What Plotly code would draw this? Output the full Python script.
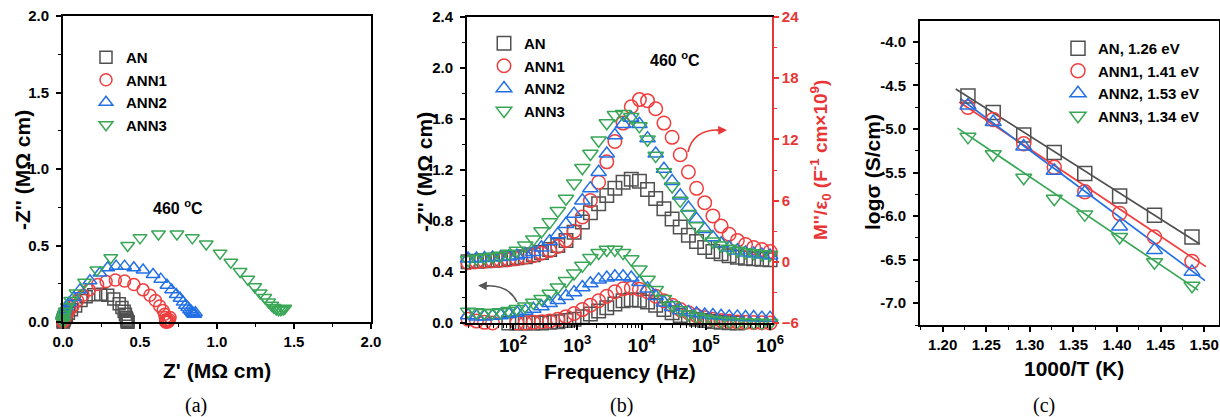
import plotly.graph_objects as go

# ---------------- data ----------------
samples = ["AN", "ANN1", "ANN2", "ANN3"]

freq = [20, 27, 36, 48, 64, 86, 115, 155, 207, 277, 372, 498, 667, 893, 1200, 1600,
        2150, 2880, 3850, 5160, 6920, 9270, 12400, 16600, 22300, 29900, 40000, 53600,
        71800, 96200, 129000, 173000, 231000, 310000, 415000, 556000, 745000, 1000000]

# -Z'' (MOhm cm) vs frequency
zim_AN = [-0.04, -0.02, -0.02, -0.01, -0.01, 0.0, 0.0, 0.0, 0.0, 0.0,
          0.005, 0.01, 0.02, 0.03, 0.05, 0.07, 0.095, 0.12, 0.15, 0.175,
          0.182, 0.178, 0.165, 0.14, 0.105, 0.08, 0.058, 0.042, 0.03, 0.02,
          0.012, 0.006, 0.002, 0.0, -0.003, -0.005, -0.007, -0.008]
zim_ANN1 = [0.03, 0.015, 0.005, 0.0, -0.005, -0.005, 0.0, 0.0, 0.005, 0.01,
            0.015, 0.03, 0.05, 0.075, 0.105, 0.14, 0.175, 0.21, 0.245, 0.268,
            0.275, 0.265, 0.245, 0.21, 0.175, 0.14, 0.105, 0.08, 0.058, 0.042,
            0.03, 0.02, 0.013, 0.008, 0.005, 0.003, 0.002, 0.0]
zim_ANN2 = [0.06, 0.05, 0.05, 0.055, 0.06, 0.07, 0.08, 0.095, 0.11, 0.13,
            0.155, 0.18, 0.21, 0.24, 0.28, 0.31, 0.34, 0.355, 0.365, 0.365,
            0.355, 0.32, 0.27, 0.21, 0.16, 0.125, 0.1, 0.085, 0.075, 0.065,
            0.06, 0.055, 0.05, 0.05, 0.045, 0.045, 0.04, 0.04]
zim_ANN3 = [0.09, 0.085, 0.08, 0.08, 0.085, 0.095, 0.11, 0.13, 0.16, 0.19,
            0.23, 0.28, 0.33, 0.39, 0.45, 0.51, 0.55, 0.575, 0.575, 0.55,
            0.5, 0.42, 0.34, 0.26, 0.19, 0.14, 0.1, 0.07, 0.05, 0.035,
            0.025, 0.018, 0.012, 0.008, 0.005, 0.003, 0.001, 0.0]

# Z' (MOhm cm) at the same frequencies
zre_AN = [0.405, 0.41, 0.415, 0.415, 0.418, 0.418, 0.42, 0.42, 0.42, 0.42,
          0.418, 0.416, 0.414, 0.41, 0.405, 0.397, 0.383, 0.365, 0.33, 0.29,
          0.245, 0.2, 0.15, 0.117, 0.082, 0.055, 0.035, 0.022, 0.014, 0.009,
          0.005, 0.003, 0.002, 0.001, 0.001, 0.0, 0.0, 0.0]
zre_ANN1 = [0.695, 0.69, 0.685, 0.68, 0.675, 0.672, 0.67, 0.668, 0.668, 0.668,
            0.668, 0.665, 0.66, 0.65, 0.628, 0.6, 0.565, 0.52, 0.46, 0.4,
            0.34, 0.28, 0.225, 0.17, 0.13, 0.095, 0.065, 0.045, 0.03, 0.02,
            0.013, 0.008, 0.005, 0.003, 0.002, 0.001, 0.0, 0.0]
zre_ANN2 = [0.86, 0.855, 0.85, 0.845, 0.84, 0.832, 0.822, 0.81, 0.795, 0.78,
            0.76, 0.735, 0.705, 0.675, 0.635, 0.585, 0.52, 0.46, 0.4, 0.345,
            0.29, 0.24, 0.175, 0.11, 0.07, 0.04, 0.02, 0.012, 0.008, 0.005,
            0.003, 0.002, 0.001, 0.0, 0.0, 0.0, 0.0, 0.0]
zre_ANN3 = [1.44, 1.43, 1.415, 1.4, 1.385, 1.37, 1.355, 1.335, 1.31, 1.28,
            1.245, 1.2, 1.15, 1.09, 1.02, 0.93, 0.84, 0.74, 0.62, 0.5,
            0.42, 0.31, 0.22, 0.14, 0.085, 0.05, 0.028, 0.015, 0.008, 0.004,
            0.002, 0.001, 0.0, 0.0, 0.0, 0.0, 0.0, 0.0]

# M''/eps0 (F^-1 cm x10^9)
mim_AN = [0.0, 0.05, 0.1, 0.15, 0.2, 0.3, 0.4, 0.5, 0.7, 0.9,
          1.2, 1.6, 2.1, 2.9, 3.9, 4.8, 5.7, 6.5, 7.2, 7.8,
          8.1, 7.9, 7.1, 6.2, 5.2, 4.2, 3.4, 2.6, 2.0, 1.4,
          1.0, 0.8, 0.6, 0.45, 0.35, 0.3, 0.25, 0.2]
mim_ANN1 = [-0.1, 0.0, 0.05, 0.1, 0.15, 0.2, 0.3, 0.45, 0.6, 0.85,
            1.1, 1.5, 2.1, 3.0, 4.4, 6.0, 7.8, 9.8, 11.8, 13.6,
            15.2, 15.9, 15.8, 15.0, 13.6, 12.2, 10.5, 8.8, 7.2, 5.8,
            4.5, 3.5, 2.7, 2.1, 1.7, 1.4, 1.2, 1.0]
mim_ANN2 = [0.3, 0.3, 0.35, 0.4, 0.45, 0.5, 0.6, 0.75, 0.95, 1.4,
            2.0, 2.7, 3.7, 4.7, 6.0, 7.2, 8.8, 10.6, 12.4, 13.5,
            14.1, 13.5, 12.1, 10.6, 9.1, 7.9, 6.5, 5.3, 4.2, 3.2,
            2.4, 1.8, 1.4, 1.1, 0.9, 0.8, 0.7, 0.6]
mim_ANN3 = [0.2, 0.3, 0.4, 0.5, 0.6, 0.8, 1.1, 1.6, 2.2, 3.0,
            3.9, 5.0, 6.2, 7.7, 9.2, 10.6, 11.9, 13.6, 14.4, 14.5,
            14.2, 13.3, 12.0, 10.4, 8.8, 7.4, 6.0, 4.7, 3.5, 2.7,
            2.0, 1.6, 1.3, 1.1, 0.95, 0.85, 0.75, 0.7]

# Arrhenius data
inv_T = [1.229, 1.258, 1.293, 1.328, 1.363, 1.403, 1.443, 1.486]
logs_AN = [-4.62, -4.81, -5.07, -5.27, -5.51, -5.77, -5.99, -6.24]
logs_ANN1 = [-4.75, -4.89, -5.17, -5.44, -5.72, -5.97, -6.24, -6.52]
logs_ANN2 = [-4.73, -4.92, -5.20, -5.48, -5.73, -6.12, -6.39, -6.64]
logs_ANN3 = [-5.09, -5.29, -5.56, -5.80, -5.98, -6.24, -6.53, -6.80]
Ea = ["1.26", "1.41", "1.53", "1.34"]
fitx_AN, fity_AN = [1.215, 1.495], [-4.54, -6.32]
fitx_ANN1, fity_ANN1 = [1.219, 1.502], [-4.69, -6.58]
fitx_ANN2, fity_ANN2 = [1.220, 1.501], [-4.65, -6.74]
fitx_ANN3, fity_ANN3 = [1.217, 1.493], [-4.99, -6.85]

c_ticks = [-7.0, -6.5, -6.0, -5.5, -5.0, -4.5, -4.0]
c_ticktext = ["-7.0", "-6.5", "-6.0", "-5.5", "-5.0", "-4.5", "-4.0"]

# ---------------- style ----------------
W, H = 1220, 417
FONT = "Liberation Sans, Arial, sans-serif"
colors = ["#505050", "#f03e3e", "#2370e6", "#38a656"]
symbols = ["square-open", "circle-open", "triangle-up-open", "triangle-down-open"]
RED_AX = "#e83535"


def px(x):
    return x / W


def py(y):
    return 1 - y / H


zim = [zim_AN, zim_ANN1, zim_ANN2, zim_ANN3]
zre = [zre_AN, zre_ANN1, zre_ANN2, zre_ANN3]
mim = [mim_AN, mim_ANN1, mim_ANN2, mim_ANN3]
logs = [logs_AN, logs_ANN1, logs_ANN2, logs_ANN3]
fitx = [fitx_AN, fitx_ANN1, fitx_ANN2, fitx_ANN3]
fity = [fity_AN, fity_ANN1, fity_ANN2, fity_ANN3]

fig = go.Figure()

# panel (a)
for k, s in enumerate(samples):
    fig.add_trace(go.Scatter(
        x=zre[k], y=zim[k], mode="markers", name=s, legend="legend",
        marker=dict(symbol=symbols[k], size=12, color=colors[k], line=dict(width=1.5)),
        xaxis="x", yaxis="y", cliponaxis=False))

# panel (b)
for k, s in enumerate(samples):
    fig.add_trace(go.Scatter(
        x=freq, y=zim[k], mode="markers", name=s, showlegend=False,
        marker=dict(symbol=symbols[k], size=13.5, color=colors[k], line=dict(width=1.5)),
        xaxis="x2", yaxis="y2", cliponaxis=False))
for k, s in enumerate(samples):
    fig.add_trace(go.Scatter(
        x=freq, y=mim[k], mode="markers", name=s, legend="legend2",
        marker=dict(symbol=symbols[k], size=13.5, color=colors[k], line=dict(width=1.5)),
        xaxis="x2", yaxis="y3", cliponaxis=False))

# panel (c)
for k, s in enumerate(samples):
    fig.add_trace(go.Scatter(
        x=fitx[k], y=fity[k], mode="lines", showlegend=False,
        line=dict(color=colors[k], width=1.7), xaxis="x3", yaxis="y4"))
for k, s in enumerate(samples):
    fig.add_trace(go.Scatter(
        x=inv_T, y=logs[k], mode="markers", name=f"{s}, {Ea[k]} eV", legend="legend3",
        marker=dict(symbol=symbols[k], size=14, color=colors[k], line=dict(width=1.5)),
        xaxis="x3", yaxis="y4", cliponaxis=False))

tickfont = dict(family=FONT, size=15, color="black", weight="bold")
base = dict(showline=True, linewidth=1.7, linecolor="black", ticks="outside", ticklen=5,
            tickwidth=1.5, tickcolor="black", showgrid=False, zeroline=False,
            tickfont=tickfont)
minor = dict(ticks="outside", ticklen=3, tickwidth=1.2, tickcolor="black", showgrid=False)

fig.update_layout(
    width=W, height=H, template="none",
    margin=dict(l=0, r=0, t=0, b=0),
    paper_bgcolor="white", plot_bgcolor="white",
    font=dict(family=FONT, color="black"),
    xaxis=dict(base, domain=[px(63), px(371)], range=[0, 2], dtick=0.5, tick0=0,
               tickformat=".1f", anchor="y", mirror=True, minor=dict(minor, dtick=0.25)),
    yaxis=dict(base, domain=[py(322), py(16)], range=[0, 2], dtick=0.5, tick0=0,
               tickformat=".1f", anchor="x", mirror=True, minor=dict(minor, dtick=0.25),
               ticklabelstandoff=4),
    xaxis2=dict(base, type="log", domain=[px(467), px(772)], range=[1.284, 6.03],
                dtick=1, exponentformat="power", anchor="y2", mirror=True,
                minor=dict(minor, dtick="D1")),
    yaxis2=dict(base, domain=[py(323), py(17)], range=[0, 2.4], dtick=0.4, tick0=0,
                tickformat=".1f", anchor="x2", minor=dict(minor, dtick=0.2),
                ticklabelstandoff=4),
    yaxis3=dict(base, overlaying="y2", side="right", anchor="x2", range=[-6, 24],
                dtick=6, tick0=0, linecolor=RED_AX, tickcolor=RED_AX,
                tickfont=dict(tickfont, color=RED_AX),
                minor=dict(minor, dtick=3, tickcolor=RED_AX)),
    xaxis3=dict(base, domain=[px(920), px(1219)], range=[1.174, 1.517], dtick=0.05,
                tick0=1.2, tickformat=".2f", anchor="y4", mirror=True,
                minor=dict(minor, dtick=0.025)),
    yaxis4=dict(base, domain=[py(325), py(21)], range=[-7.25, -3.76],
                tickmode="array", tickvals=c_ticks, ticktext=c_ticktext,
                anchor="x3", mirror=True,
                minor=dict(minor, tickmode="linear", tick0=-7.0, dtick=0.25),
                ticklabelstandoff=4),
)

leg = dict(xanchor="left", yanchor="top", bgcolor="rgba(0,0,0,0)", borderwidth=0,
           font=dict(family=FONT, size=15, color="black", weight="bold"),
           tracegroupgap=0, itemwidth=30)
fig.update_layout(
    legend=dict(leg, x=px(86), y=py(41)),
    legend2=dict(leg, x=px(484), y=py(27)),
    legend3=dict(leg, x=px(1058), y=py(32)),
)

ann = []


def txt(x, y, t, size=21, angle=0, color="black", family=FONT, bold=True):
    ann.append(dict(x=px(x), y=py(y), xref="paper", yref="paper", text=t,
                    showarrow=False, textangle=angle, xanchor="center", yanchor="middle",
                    font=dict(family=family, size=size, color=color,
                              weight="bold" if bold else "normal")))


txt(22, 170, "-Z'' (MΩ cm)", angle=-90)
txt(217, 370, "Z' (MΩ cm)")
txt(424, 172, "-Z'' (MΩ cm)", angle=-90)
txt(820, 160, "M''/ε<sub>0</sub> (F<sup>-1</sup> cm×10<sup>9</sup>)", size=19, angle=-90, color=RED_AX)
txt(620, 371, "Frequency (Hz)")
txt(872, 172, "logσ (S/cm)", angle=-90)
txt(1074, 368, "1000/T (K)")
txt(178, 207, "460 <sup>o</sup>C", size=16)
txt(675, 59, "460 <sup>o</sup>C", size=16)
for cx, lab in [(196, "(a)"), (621, "(b)"), (1044, "(c)")]:
    txt(cx, 405, lab, size=20, family="Liberation Serif, Times New Roman, serif", bold=False)

# arrowheads
ann.append(dict(x=px(478), y=py(285.5), xref="paper", yref="paper", ax=12, ay=0.5,
                text="", showarrow=True, arrowhead=2, arrowsize=1.1, arrowwidth=1.6,
                arrowcolor="#555555"))
ann.append(dict(x=px(727), y=py(130), xref="paper", yref="paper", ax=-12, ay=0.5,
                text="", showarrow=True, arrowhead=2, arrowsize=1.1, arrowwidth=1.6,
                arrowcolor=RED_AX))
fig.update_layout(annotations=ann)

shapes = [
    dict(type="path", xref="paper", yref="paper",
         path=f"M {px(517)} {py(302)} Q {px(508)} {py(284)} {px(484)} {py(286)}",
         line=dict(color="#555555", width=1.6)),
    dict(type="path", xref="paper", yref="paper",
         path=f"M {px(688)} {py(152)} Q {px(693)} {py(130)} {px(718)} {py(130)}",
         line=dict(color=RED_AX, width=1.6)),
]
fig.update_layout(shapes=shapes)

fig.write_html("out.html")
